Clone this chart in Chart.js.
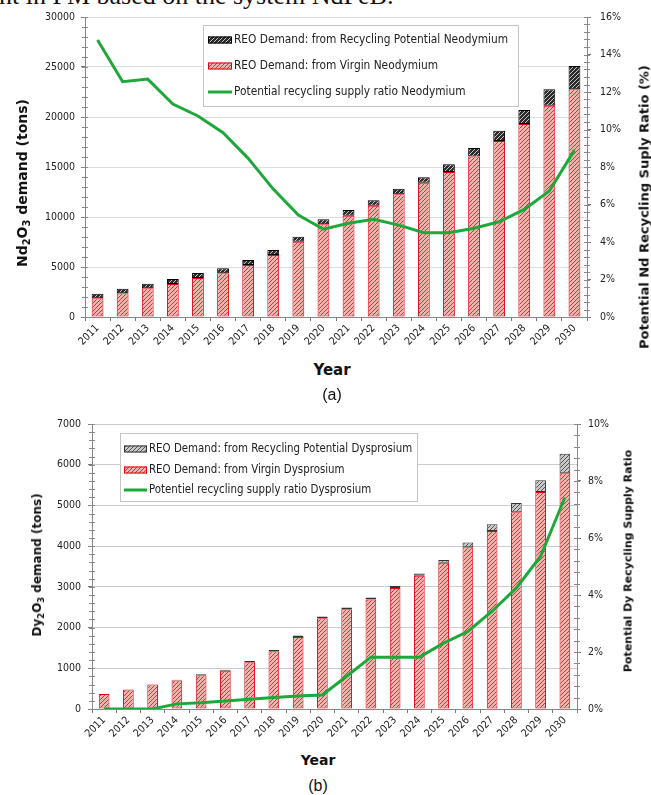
<!DOCTYPE html>
<html>
<head>
<meta charset="utf-8">
<script src="https://cdn.jsdelivr.net/npm/chart.js@4.4.1/dist/chart.umd.min.js"></script>
<style>
  body { margin: 0; background: #fff; }
  #page { position: relative; width: 651px; height: 795px; overflow: hidden; background: #fff; }
  canvas { position: absolute; left: 0; }
  .t { position: absolute; white-space: nowrap; color: #111; font-family: "DejaVu Sans", sans-serif; font-weight: bold; transform: translate(-50%, -50%); }
  .v { transform: translate(-50%, -50%) rotate(-90deg); }
  .t sub { font-size: 70%; vertical-align: -0.3em; line-height: 0; }
  .cap { position: absolute; transform: translate(-50%, -50%); font-family: "Liberation Sans", Arial, sans-serif; font-size: 16px; color: #111; }
  #cut { position: absolute; left: -1px; top: -19px; font-family: "Liberation Serif", serif; font-size: 26px; white-space: nowrap; color: #111; }
</style>
</head>
<body>
<div id="page">
  <div id="cut">nt in PM based on the system NdFeB:</div>
  <canvas id="ndChart" width="651" height="360" style="top:0"></canvas>
  <canvas id="dyChart" width="651" height="352" style="top:400px"></canvas>

  <div class="t v" style="left:22px; top:183px; font-size:14px">Nd<sub>2</sub>O<sub>3</sub> demand (tons)</div>
  <div class="t v" style="left:644px; top:207px; font-size:13px">Potential Nd Recycling Suply Ratio (%)</div>
  <div class="t" style="left:332px; top:370px; font-size:15px">Year</div>
  <div class="cap" style="left:332px; top:395px">(a)</div>

  <div class="t v" style="left:37px; top:565px; font-size:12px">Dy<sub>2</sub>O<sub>3</sub> demand (tons)</div>
  <div class="t v" style="left:628px; top:561px; font-size:11px">Potential Dy Recycling Supply Ratio</div>
  <div class="t" style="left:318px; top:760px; font-size:14px">Year</div>
  <div class="cap" style="left:318px; top:786px">(b)</div>
</div>
<script>
const years = ['2011', '2012', '2013', '2014', '2015', '2016', '2017', '2018', '2019', '2020',
  '2021', '2022', '2023', '2024', '2025', '2026', '2027', '2028', '2029', '2030']

// Neodymium (tons of Nd2O3, ratio in %)
const ndVirgin = [1870, 2370, 2870, 3300, 3900, 4370, 5200, 6200, 7530, 9270,
  10130, 11130, 12270, 13430, 14500, 16050, 17600, 19300, 21130, 22770]
const ndRecycling = [460, 460, 460, 500, 500, 500, 500, 500, 500, 500,
  570, 540, 560, 540, 770, 850, 1030, 1400, 1640, 2330]
const ndRatio = [14.77, 12.55, 12.69, 11.36, 10.72, 9.83, 8.46, 6.82, 5.44, 4.68,
  5.0, 5.21, 4.9, 4.5, 4.5, 4.73, 5.08, 5.74, 6.72, 8.9]

// Dysprosium (tons of Dy2O3, ratio in %)
const dyVirgin = [370, 480, 600, 700, 830, 940, 1150, 1420, 1770, 2230,
  2450, 2690, 2970, 3270, 3590, 3970, 4370, 4830, 5330, 5790]
const dyRecycling = [0, 0, 0, 20, 25, 25, 30, 30, 35, 40,
  40, 50, 50, 60, 70, 120, 170, 230, 290, 480]
const dyRatio = [0, 0, 0, 0.18, 0.22, 0.28, 0.34, 0.40, 0.46, 0.49,
  1.15, 1.82, 1.82, 1.82, 2.31, 2.72, 3.43, 4.25, 5.36, 7.42]

const ndLabels = ['REO Demand: from Virgin Neodymium', 'REO Demand: from Recycling Potential Neodymium', 'Potential recycling supply ratio Neodymium']
const dyLabels = ['REO Demand: from Virgin Dysprosium', 'REO Demand: from Recycling Potential Dysprosium', 'Potentiel recycling supply ratio Dysprosium']

Chart.defaults.font.family = '"DejaVu Sans Condensed", "DejaVu Sans", sans-serif'
Chart.defaults.color = '#333'

// diagonal hatch used by Excel-style pattern fills
function hatch(bg, fg) {
  const c = document.createElement('canvas')
  c.width = c.height = 4
  const g = c.getContext('2d')
  g.fillStyle = bg
  g.fillRect(0, 0, 4, 4)
  g.strokeStyle = fg
  g.lineWidth = 1
  g.beginPath()
  g.moveTo(-1, 5); g.lineTo(5, -1)
  g.moveTo(-1, 1); g.lineTo(1, -1)
  g.moveTo(3, 5); g.lineTo(5, 3)
  g.stroke()
  return g.createPattern(c, 'repeat')
}

function minorTicks(steps) {
  return {
    id: 'minorTicks',
    afterDatasetsDraw(chart) {
      const ctx = chart.ctx
      ctx.save()
      ctx.strokeStyle = '#888'
      ctx.lineWidth = 1
      ctx.beginPath()
      for (const id in steps) {
        const s = chart.scales[id]
        const edge = s.position === 'left' ? s.right : s.left
        const n = Math.round((s.max - s.min) / steps[id])
        for (let i = 0; i <= n; i++) {
          const y = Math.round(s.getPixelForValue(s.min + i * steps[id])) + 0.5
          ctx.moveTo(edge - 3, y)
          ctx.lineTo(edge + 3, y)
        }
      }
      ctx.stroke()
      ctx.restore()
    }
  }
}

// legend drawn as a framed box inside the plot, like the original
function boxLegend(spec) {
  return {
    id: 'boxLegend',
    afterDatasetsDraw(chart) {
      const ctx = chart.ctx
      const ds = chart.data.datasets
      ctx.save()
      ctx.fillStyle = '#fff'
      ctx.fillRect(spec.x, spec.y, spec.w, spec.h)
      ctx.strokeStyle = '#c4c4c4'
      ctx.lineWidth = 1
      ctx.strokeRect(spec.x + 0.5, spec.y + 0.5, spec.w, spec.h)
      ctx.font = spec.font
      ctx.textBaseline = 'middle'
      spec.order.forEach((idx, row) => {
        const d = ds[idx]
        const cy = spec.rows[row]
        const sx = spec.x + spec.symX
        if (d.type === 'line') {
          ctx.strokeStyle = d.borderColor
          ctx.lineWidth = d.borderWidth
          ctx.beginPath()
          ctx.moveTo(sx, cy)
          ctx.lineTo(sx + spec.symW, cy)
          ctx.stroke()
        } else {
          ctx.fillStyle = d.backgroundColor
          ctx.fillRect(sx, cy - spec.symH / 2, spec.symW, spec.symH)
          ctx.strokeStyle = d.borderColor
          ctx.lineWidth = 1
          ctx.strokeRect(sx + 0.5, cy - spec.symH / 2 + 0.5, spec.symW - 1, spec.symH - 1)
        }
        ctx.fillStyle = '#222'
        ctx.fillText(d.label, sx + spec.symW + 2, cy)
      })
      ctx.restore()
    }
  }
}

const tickFont = { size: 10.5 }

function makeChart(id, c) {
  return new Chart(document.getElementById(id), {
    type: 'bar',
    data: {
      labels: years,
      datasets: [{
        type: 'bar',
        label: c.labels[0],
        data: c.virgin,
        backgroundColor: hatch('#f3b4b4', '#e03030'),
        borderColor: '#e3000f',
        borderWidth: 1,
        borderSkipped: false,
        barPercentage: c.barPct,
        categoryPercentage: 1,
        order: 1
      }, {
        type: 'bar',
        label: c.labels[1],
        data: c.recycling,
        backgroundColor: c.recFill,
        borderColor: c.recBorder,
        borderWidth: 1,
        borderSkipped: false,
        barPercentage: c.barPct,
        categoryPercentage: 1,
        order: 1
      }, {
        type: 'line',
        label: c.labels[2],
        data: c.ratio,
        yAxisID: 'y1',
        borderColor: '#1fa83a',
        borderWidth: 3,
        pointRadius: 0,
        tension: 0,
        order: 0
      }]
    },
    options: {
      responsive: false,
      animation: false,
      layout: { padding: { top: c.top, left: 0, right: 0, bottom: 0 } },
      plugins: { legend: { display: false }, tooltip: { enabled: false } },
      scales: {
        x: {
          stacked: true,
          grid: { drawOnChartArea: false, tickLength: 4, tickColor: '#777', offset: true },
          border: { color: '#888' },
          ticks: { autoSkip: false, minRotation: 45, maxRotation: 45, padding: 1, font: tickFont, color: '#222' },
          afterFit: s => { s.height = c.xH }
        },
        y: {
          position: 'left',
          stacked: true,
          min: 0,
          max: c.yMax,
          ticks: { stepSize: c.yStep, padding: c.yPad, font: tickFont, color: '#222', callback: v => String(v) },
          grid: { color: c.gridColor, tickColor: '#777', tickLength: 4 },
          border: { color: '#888' },
          afterFit: s => { s.width = c.leftW }
        },
        y1: {
          position: 'right',
          min: 0,
          max: c.rMax,
          ticks: { stepSize: c.rStep, padding: c.rPad, font: tickFont, color: '#222', callback: v => v + '%' },
          grid: { drawOnChartArea: false, tickColor: '#777', tickLength: 4 },
          border: { color: '#888' },
          afterFit: s => { s.width = c.rightW }
        }
      }
    },
    plugins: [minorTicks({ y: c.yMinor, y1: c.rMinor }), boxLegend(c.legend)]
  })
}

makeChart('ndChart', {
  labels: ndLabels, virgin: ndVirgin, recycling: ndRecycling, ratio: ndRatio,
  recFill: hatch('#2a2a2a', '#c8c8c8'), recBorder: '#000',
  barPct: 0.47, top: 17, xH: 43, leftW: 85, rightW: 64,
  yMax: 30000, yStep: 5000, yMinor: 1000, yPad: 6,
  rMax: 16, rStep: 2, rMinor: 0.4, rPad: 9,
  gridColor: '#dedede',
  legend: { x: 203, y: 25, w: 315, h: 81, rows: [40, 66, 92], order: [1, 0, 2],
    symX: 5, symW: 24, symH: 7, font: '11.8px "DejaVu Sans Condensed", "DejaVu Sans", sans-serif' }
})

makeChart('dyChart', {
  labels: dyLabels, virgin: dyVirgin, recycling: dyRecycling, ratio: dyRatio,
  recFill: hatch('#c8c8c8', '#555'), recBorder: '#333',
  barPct: 0.44, top: 24, xH: 43, leftW: 92, rightW: 74,
  yMax: 7000, yStep: 1000, yMinor: 200, yPad: 7,
  rMax: 10, rStep: 2, rMinor: 0.4, rPad: 7,
  gridColor: '#cccccc',
  legend: { x: 120, y: 33, w: 297, h: 68, rows: [49, 70, 90], order: [1, 0, 2],
    symX: 4, symW: 23, symH: 7, font: '11.4px "DejaVu Sans Condensed", "DejaVu Sans", sans-serif' }
})
</script>
</body>
</html>
